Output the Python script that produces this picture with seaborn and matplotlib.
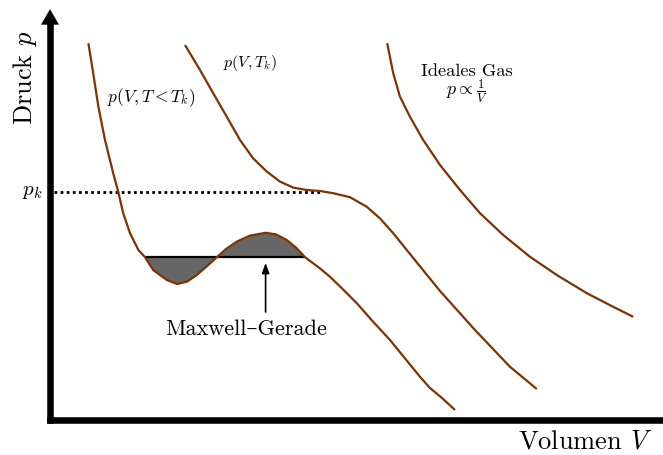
import matplotlib
matplotlib.use("Agg")
import matplotlib.pyplot as plt
import seaborn as sns
import pandas as pd

# ---------------- data (arbitrary units: V, p) ----------------
vdw_V = [0.96, 1.08, 1.21, 1.375, 1.58, 1.71, 1.83, 2.0, 2.21, 2.375, 2.58, 2.92, 3.18,
         3.425, 3.67, 3.9, 4.17, 4.4, 4.67, 5.0, 5.39, 5.65, 5.92, 6.15, 6.375,
         6.75, 7.0, 7.33, 7.67, 8.075, 8.5, 8.875, 9.25, 9.5, 9.8, 10.125]
vdw_p = [9.42, 8.67, 7.83, 7.0, 6.17, 5.69, 5.17, 4.67, 4.25, 4.07, 3.75, 3.5, 3.4,
         3.46, 3.625, 3.825, 4.07, 4.275, 4.46, 4.61, 4.68, 4.64, 4.5, 4.31, 4.07,
         3.79, 3.58, 3.26, 2.92, 2.46, 2.0, 1.54, 1.08, 0.8, 0.55, 0.25]

crit_V = [3.375, 3.75, 4.08, 4.42, 4.75, 5.08, 5.42, 5.75, 6.08, 6.42, 6.75, 7.08,
          7.5, 7.92, 8.25, 8.58, 9.0, 9.75, 10.625, 11.5, 12.17]
crit_p = [9.375, 8.75, 8.17, 7.58, 7.0, 6.54, 6.21, 5.96, 5.81, 5.75, 5.725, 5.67,
          5.57, 5.33, 5.04, 4.67, 4.15, 3.225, 2.25, 1.33, 0.775]

ideal_V = [8.43, 8.58, 8.75, 9.0, 9.33, 9.75, 10.25, 10.75, 11.33, 12.0, 12.67,
           13.42, 14.08, 14.58]
ideal_p = [9.42, 8.67, 8.08, 7.58, 7.0, 6.375, 5.75, 5.17, 4.625, 4.08, 3.625,
           3.17, 2.83, 2.58]

p_k = 5.71
p_maxwell = 4.07
V_maxwell = [2.375, 6.375]

# ---------------- style ----------------
sns.set_theme(style="white")
plt.rcParams["mathtext.fontset"] = "cm"
plt.rcParams["font.family"] = ["cmr10", "DejaVu Serif"]
plt.rcParams["axes.unicode_minus"] = False
plt.rcParams["text.color"] = "black"
plt.rcParams["lines.solid_joinstyle"] = "round"
plt.rcParams["lines.solid_capstyle"] = "butt"

BROWN = "#7f3300"

fig = plt.figure(figsize=(6.63, 4.55), dpi=100)
ax = fig.add_axes([50 / 663, 35 / 455, 630 / 663, 400 / 455])
ax.set_xlim(0, 15.75)
ax.set_ylim(0, 10.0)

df = pd.concat([
    pd.DataFrame({"V": vdw_V, "p": vdw_p, "c": "vdw"}),
    pd.DataFrame({"V": crit_V, "p": crit_p, "c": "crit"}),
    pd.DataFrame({"V": ideal_V, "p": ideal_p, "c": "ideal"}),
])

# shaded Maxwell areas
seg = [(v, p) for v, p in zip(vdw_V, vdw_p) if V_maxwell[0] <= v <= V_maxwell[1]]
sv = [s[0] for s in seg]
sp = [s[1] for s in seg]
ax.fill_between(sv, sp, p_maxwell, color="#666666", lw=0, zorder=1)
ax.plot(V_maxwell, [p_maxwell, p_maxwell], color="black", lw=1.6, zorder=2)

# dotted p_k line
ax.plot([0.1, 6.75], [p_k, p_k], color="black", lw=2.0, ls=(0, (1, 1.2)), zorder=2)

for name in ["vdw", "crit", "ideal"]:
    sns.lineplot(data=df[df.c == name], x="V", y="p", sort=False, estimator=None,
                 color=BROWN, lw=1.6, ax=ax, zorder=3)

# arrow to Maxwell line
ax.annotate("", xy=(5.39, 3.93), xytext=(5.39, 2.7),
            arrowprops=dict(arrowstyle="-|>,head_length=0.5,head_width=0.18",
                            color="black", lw=1.2, shrinkA=0, shrinkB=0))

# axes look
for s in ["top", "right"]:
    ax.spines[s].set_visible(False)
for s in ["left", "bottom"]:
    ax.spines[s].set_linewidth(4.7)
    ax.spines[s].set_color("black")
    ax.spines[s].set_capstyle("projecting")
ax.set_xticks([])
ax.set_yticks([])
ax.set_xlabel("")
ax.set_ylabel("")

# arrow head at top of p axis
ax.annotate("", xy=(0, 10.27), xytext=(0, 9.9), annotation_clip=False,
            arrowprops=dict(arrowstyle="-|>,head_length=0.55,head_width=0.32",
                            color="black", lw=0.1, shrinkA=0, shrinkB=0,
                            mutation_scale=20))

# texts
ax.text(2.525, 8.05, r"$p(V,T<T_k)$", fontsize=12.5, ha="center", va="center")
ax.text(5.0, 8.925, r"$p(V,T_k)$", fontsize=11.5, ha="center", va="center")
ax.text(10.425, 8.725, "Ideales Gas", fontsize=13.3, ha="center", va="center")
ax.text(10.425, 8.225, r"$p\propto\frac{1}{V}$", fontsize=13, ha="center", va="center")
ax.text(4.89, 2.275, "Maxwell–Gerade", fontsize=16, ha="center", va="center")
ax.text(-0.45, p_k, r"$p_k$", fontsize=15, ha="center", va="center", clip_on=False)
fig.text(25 / 663, 1 - 78 / 455, r"Druck $p$", fontsize=19, rotation=90,
         ha="center", va="center")
fig.text(585 / 663, 1 - 442 / 455, r"Volumen $V$", fontsize=19,
         ha="center", va="center")

fig.savefig("out.png", dpi=100)
